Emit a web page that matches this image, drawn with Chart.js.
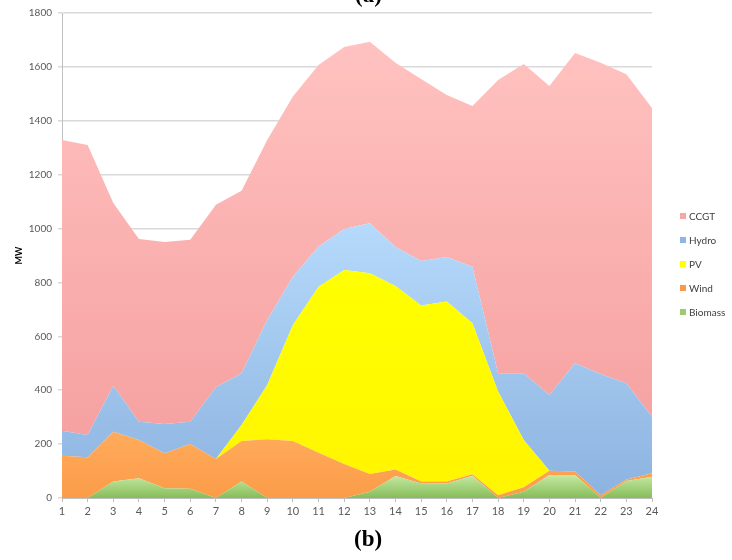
<!DOCTYPE html>
<html>
<head>
<meta charset="utf-8">
<script src="https://cdn.jsdelivr.net/npm/chart.js@4"></script>
<style>
  body { margin: 0; background: #fff; }
  #cadre { position: relative; width: 732px; height: 560px; overflow: hidden; }
  #cadre canvas { position: absolute; left: 0; top: 0; }
  .sous-titre { position: absolute; font-family: "Liberation Serif", serif; font-weight: bold; font-size: 23px; color: #000; }
  #legende { position: absolute; left: 680px; top: 209px; font-family: Lato, sans-serif; font-size: 10px; color: #404040; }
  #legende div { height: 24px; line-height: 14px; white-space: nowrap; }
  #legende span { display: inline-block; width: 6px; height: 6px; margin-right: 3px; vertical-align: 1px; }
</style>
</head>
<body>
<div id="cadre">
  <canvas id="CanvaId" width="732" height="560"></canvas>
  <div class="sous-titre" style="left:355px; top:-18px;">(a)</div>
  <div class="sous-titre" style="left:354px; top:526px;">(b)</div>
  <div id="legende"></div>
</div>
<script>
const heures = ["1","2","3","4","5","6","7","8","9","10","11","12","13","14","15","16","17","18","19","20","21","22","23","24"];
const biomasse = [0, 0, 61, 73, 36, 34, 0, 61, 0, 0, 0, 0, 23, 82, 54, 54, 83, 0, 23, 85, 85, 0, 63, 79];
const eolien = [157, 151, 185, 142, 130, 166, 145, 151, 218, 212, 168, 126, 66, 24, 7, 7, 5, 10, 17, 16, 13, 10, 6, 13];
const solaire = [0, 0, 0, 0, 0, 0, 0, 59, 201, 430, 616, 720, 745, 681, 653, 668, 561, 385, 175, 0, 0, 0, 0, 0];
const hydro = [93, 83, 171, 68, 109, 83, 266, 192, 242, 179, 149, 152, 186, 145, 166, 165, 209, 68, 248, 281, 402, 450, 357, 210];
const ccgt = [1079, 1076, 678, 678, 675, 675, 677, 677, 668, 669, 674, 676, 673, 683, 675, 602, 597, 1088, 1148, 1147, 1152, 1155, 1147, 1145];
const ticksY = [0, 200, 400, 600, 800, 1000, 1200, 1400, 1600, 1800];

const series = [
  { nom: "Biomass", data: biomasse, haut: "#c6e9a2", bas: "#86bd5a", legende: "#9bcb6e" },
  { nom: "Wind", data: eolien, haut: "#ffab5c", bas: "#fb9c48", legende: "#f99a48" },
  { nom: "PV", data: solaire, haut: "#ffff00", bas: "#fff500", legende: "#ffff00" },
  { nom: "Hydro", data: hydro, haut: "#b6dafb", bas: "#8cb3e0", legende: "#8db6e6" },
  { nom: "CCGT", data: ccgt, haut: "#ffc2c0", bas: "#f49c9c", legende: "#f8a5a5" },
];

// hauteur cumulée max de chaque série, pour le dégradé
const cumul = new Array(heures.length).fill(0);
const maxCumul = series.map((s) => {
  let m = 0;
  for (var i = 0; i < heures.length; i++) {
    cumul[i] += s.data[i];
    if (cumul[i] > m) m = cumul[i];
  }
  return m;
});

function degrade(index) {
  return function (context) {
    const chart = context.chart;
    const zone = chart.chartArea;
    const s = series[index];
    if (!zone) return s.bas;
    const yHaut = chart.scales.y.getPixelForValue(maxCumul[index]);
    const g = chart.ctx.createLinearGradient(0, yHaut, 0, zone.bottom);
    g.addColorStop(0, s.haut);
    g.addColorStop(1, s.bas);
    return g;
  };
}

const datasets = series.map((s, i) => {
  return {
    label: s.nom,
    data: s.data,
    fill: i === 0 ? "origin" : "-1",
    backgroundColor: degrade(i),
    borderWidth: 0,
    pointRadius: 0,
    tension: 0,
  };
});

const police = "Lato, sans-serif";

const configuration = {
  type: "line",
  data: { labels: heures, datasets: datasets },
  options: {
    responsive: false,
    animation: false,
    layout: { padding: { top: 13, right: 80, bottom: 0, left: 0 } },
    plugins: { legend: { display: false }, tooltip: { enabled: false } },
    scales: {
      x: {
        offset: false,
        grid: { display: true, drawOnChartArea: false, tickLength: 4, color: "#bfbfbf" },
        border: { color: "#bfbfbf", width: 1 },
        ticks: { color: "#595959", font: { family: police, size: 11 }, padding: 3, maxRotation: 0, autoSkip: false },
        afterFit: function (scale) { scale.height = 62; },
      },
      y: {
        stacked: true,
        min: 0,
        max: 1800,
        afterBuildTicks: function (scale) { scale.ticks = ticksY.map((v) => ({ value: v })); },
        grid: { color: "#d9d9d9", lineWidth: 1.5, tickLength: 4 },
        border: { color: "#bfbfbf", width: 1 },
        ticks: { color: "#595959", font: { family: police, size: 10 }, padding: 6, callback: (v) => String(v) },
        title: { display: true, text: "MW", color: "#000", font: { family: police, size: 9, weight: "bold" }, padding: { top: 14, bottom: 0 } },
        afterFit: function (scale) { scale.width = 62; },
      },
    },
  },
};

const graphique = document.getElementById("CanvaId");
const chart = new Chart(graphique, configuration);

const legende = document.getElementById("legende");
for (var i = series.length - 1; i >= 0; i--) {
  const ligne = document.createElement("div");
  ligne.innerHTML = '<span style="background:' + series[i].legende + '"></span>' + series[i].nom;
  legende.appendChild(ligne);
}
</script>
</body>
</html>
